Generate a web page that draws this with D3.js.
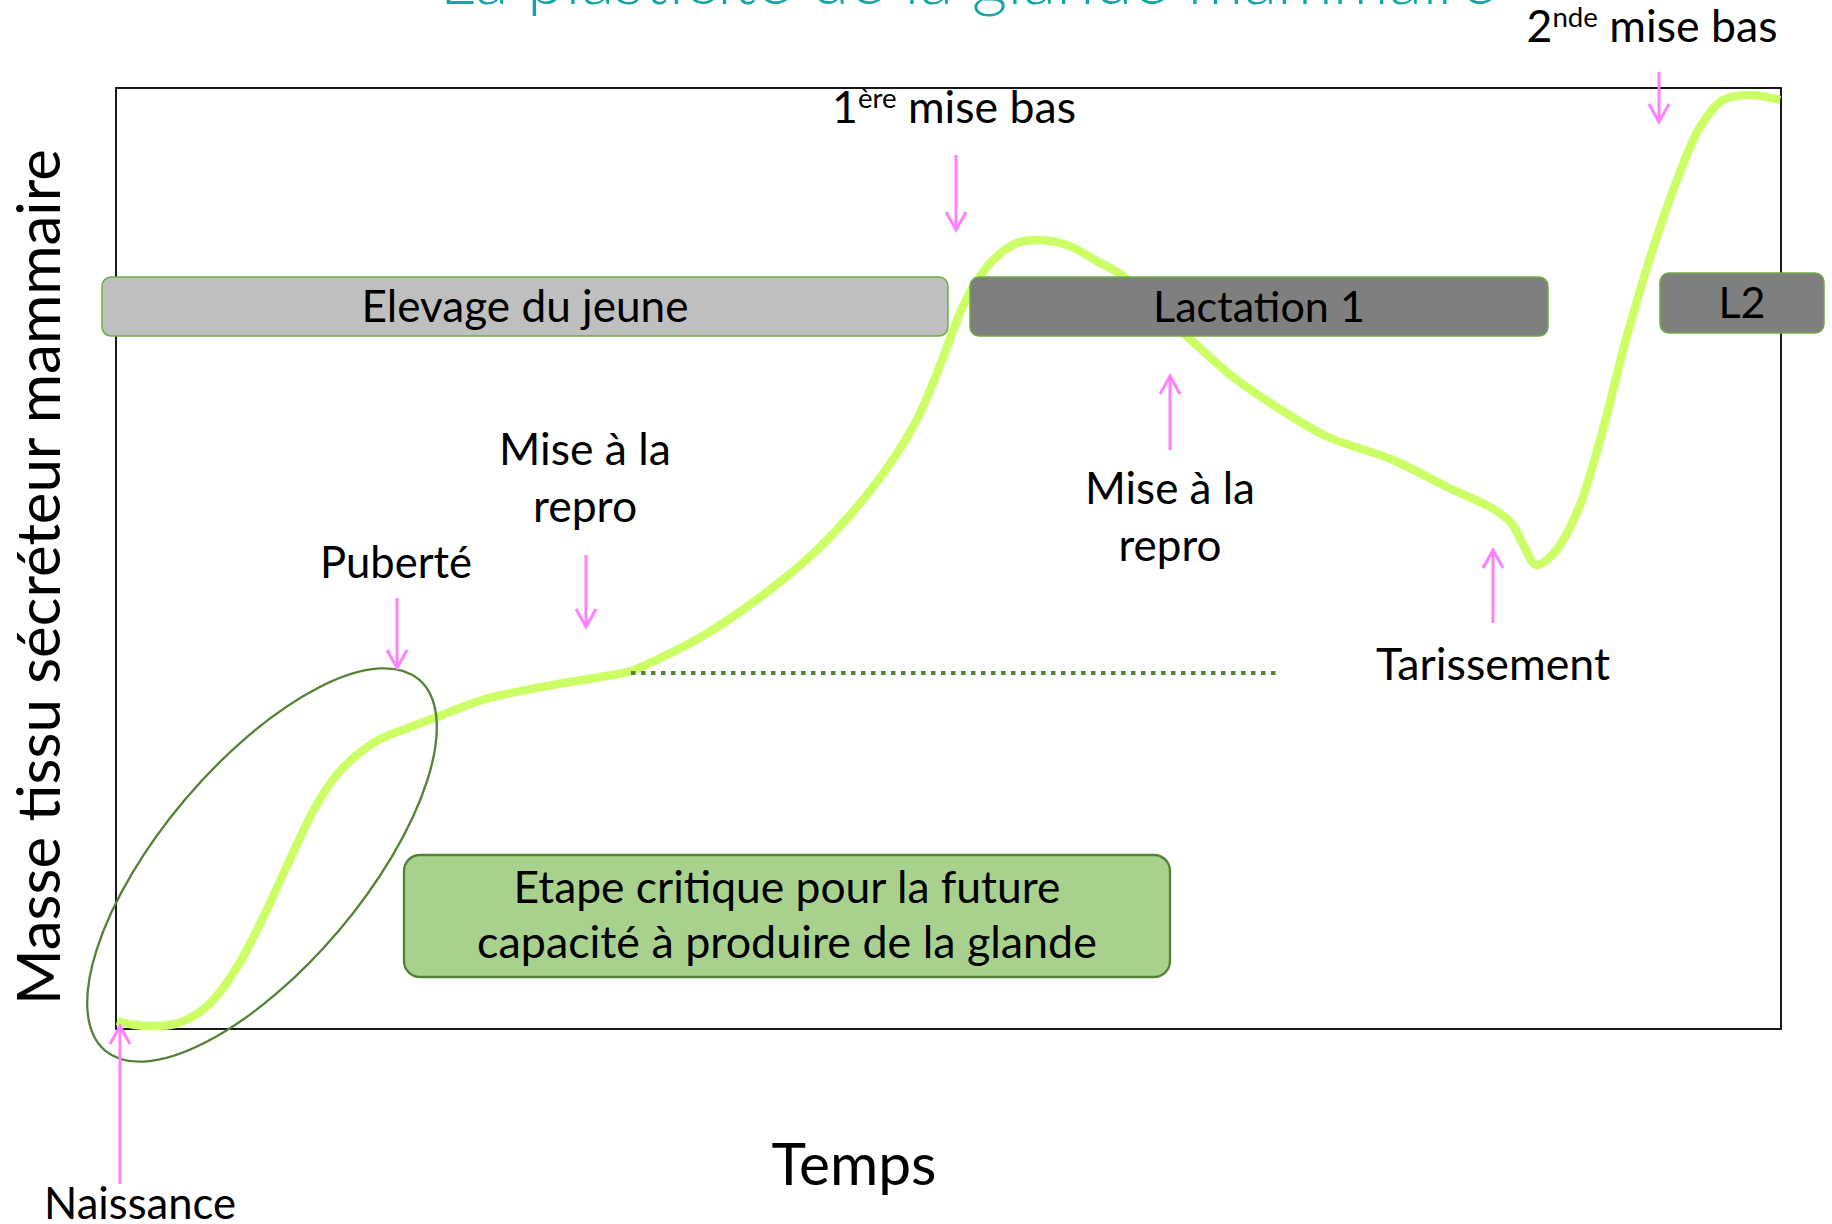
<!DOCTYPE html>
<html><head><meta charset="utf-8">
<script src="https://cdn.jsdelivr.net/npm/d3@7"></script>
<style>
body{margin:0;background:#fff;overflow:hidden}
svg{display:block}
text{font-family:Lato,"Open Sans","Noto Sans",sans-serif;fill:#000}
</style>
</head><body>
<svg id="chart" width="1832" height="1224"></svg>
<script>
// ---- data (time / mass in arbitrary units) ----
const timeValues = [1,19,39,59,74,89,107,124,139,154,169,184,196,209,224,242,264,289,321,366,420,484,515,538,585,643,702,757,797,817,831,844,857,877,901,921,951,984,1004,1075,1117,1170,1212,1277,1331,1379,1396,1408,1420,1438,1462,1486,1509,1534,1561,1584,1607,1634,1664];
const massValues = [8,4,3,5,11,21,41,67,95,126,159,191,216,238,258,275,290,300,312,329,341,352,358,368,392,431,480,542,602,646,682,716,742,769,786,789,784,766,755,689,652,616,592,569,542,519,505,483,464,476,519,596,686,771,849,902,929,934,929];

const phaseLabels = ["Elevage du jeune","Lactation 1","L2"];
const phaseStart  = [-14, 854, 1544];
const phaseEnd    = [832, 1432, 1708];
const phaseTop    = [752, 752, 756];
const phaseBottom = [693, 693, 696];
const phaseFill   = ["#bfbfbf","#7f7f7f","#7f7f7f"];

const eventLabels = [["Naissance"],["Puberté"],["Mise à la","repro"],["1^ère mise bas"],["Mise à la","repro"],["Tarissement"],["2^nde mise bas"]];
const eventTime   = [4, 281, 470, 840, 1054, 1377, 1543];
const arrowFrom   = [-155, 431, 474, 874, 579, 406, 957];
const arrowTo     = [3, 361, 402, 799, 653, 479, 907];
const labelTime   = [24, 280, 469, 838, 1054, 1377, 1536];
const labelMass   = [-190, 451, 564, 906, 525, 349, 987];
const labelWidth  = [192, 152, 172, 244, 170, 234, 251];

const refStart = 515, refEnd = 1160, refMass = 356;
const critStart = 288, critEnd = 1054, critTop = 174, critBottom = 52;
const critLines = ["Etape critique pour la future","capacité à produire de la glande"];
const pubertyCenter = [146, 164];

const titleText = "La plasticité de la glande mammaire";
const xTitle = "Temps";
const yTitle = "Masse tissu sécréteur mammaire";

// ---- drawing ----
const svg = d3.select("#chart");
const x = d3.scaleLinear().domain([0,1665]).range([116,1781]);
const y = d3.scaleLinear().domain([0,941]).range([1029,88]);

function fit(sel, target){
  const w = sel.node().getBBox().width;
  const fs = parseFloat(sel.attr("font-size"));
  sel.attr("font-size", fs*target/w);
}

// title (mostly cut off at top)
const tt = svg.append("text").attr("x",968).attr("y",4).attr("text-anchor","middle")
  .attr("font-size",60).attr("font-weight",300).style("fill","#12a6a8").text(titleText);
fit(tt,1057);

// frame
svg.append("rect").attr("x",x(0)).attr("y",y(941)).attr("width",x(1665)-x(0)).attr("height",y(0)-y(941))
  .attr("fill","none").attr("stroke","#000").attr("stroke-width",1.8);

// curve
const pts = timeValues.map((t,i)=>[t,massValues[i]]);
svg.append("path").datum(pts)
  .attr("d", d3.line().x(d=>x(d[0])).y(d=>y(d[1])).curve(d3.curveCatmullRom.alpha(0.5)))
  .attr("fill","none").attr("stroke","#ccff66").attr("stroke-width",8.5).attr("stroke-linecap","butt");

// dotted reference line
svg.append("line").attr("x1",x(refStart)).attr("x2",x(refEnd)).attr("y1",y(refMass)).attr("y2",y(refMass))
  .attr("stroke","#548235").attr("stroke-width",3.8).attr("stroke-dasharray","4.5,5.5");

// puberty ellipse
svg.append("ellipse").attr("cx",0).attr("cy",0).attr("rx",243).attr("ry",101)
  .attr("transform",`translate(${x(pubertyCenter[0])},${y(pubertyCenter[1])}) rotate(-49.8)`)
  .attr("fill","none").attr("stroke","#548235").attr("stroke-width",2.3);

// phase boxes
let phaseFont = 43;
phaseLabels.forEach((lab,i)=>{
  svg.append("rect").attr("x",x(phaseStart[i])).attr("y",y(phaseTop[i]))
    .attr("width",x(phaseEnd[i])-x(phaseStart[i])).attr("height",y(phaseBottom[i])-y(phaseTop[i]))
    .attr("rx",9).attr("fill",phaseFill[i]).attr("stroke","#70ad47").attr("stroke-width",1.5);
  const t = svg.append("text").attr("x",(x(phaseStart[i])+x(phaseEnd[i]))/2)
    .attr("y",(y(phaseTop[i])+y(phaseBottom[i]))/2+15).attr("text-anchor","middle")
    .attr("font-size",phaseFont).text(lab);
  if(i<2){ fit(t,[327,212][i]); phaseFont = +t.attr("font-size"); }
});

// critical box
svg.append("rect").attr("x",x(critStart)).attr("y",y(critTop))
  .attr("width",x(critEnd)-x(critStart)).attr("height",y(critBottom)-y(critTop))
  .attr("rx",16).attr("fill","#a9d18e").attr("stroke","#548235").attr("stroke-width",2.3);
critLines.forEach((l,i)=>{
  const t = svg.append("text").attr("x",(x(critStart)+x(critEnd))/2).attr("y",903+55*i)
    .attr("text-anchor","middle").attr("font-size",43).text(l);
  fit(t,[547,620][i]);
});

// arrows + labels
const pink = "#ff80ff";
eventTime.forEach((t,i)=>{
  const xx = x(t), y0 = y(arrowFrom[i]), y1 = y(arrowTo[i]);
  const dir = y1 > y0 ? 1 : -1;
  svg.append("line").attr("x1",xx).attr("x2",xx).attr("y1",y0).attr("y2",y1-dir*1)
    .attr("stroke",pink).attr("stroke-width",3);
  svg.append("path").attr("d",`M${xx-10},${y1-dir*18}L${xx},${y1}L${xx+10},${y1-dir*18}`)
    .attr("fill","none").attr("stroke",pink).attr("stroke-width",3);

  let fs = 43;
  eventLabels[i].forEach((line,j)=>{
    const tx = svg.append("text").attr("x",x(labelTime[i])).attr("y",y(labelMass[i])+57*j)
      .attr("text-anchor","middle").attr("font-size",fs);
    const m = line.match(/^(.*?)\^(\S+)(.*)$/);
    if(m){
      tx.append("tspan").text(m[1]);
      tx.append("tspan").attr("font-size","62%").attr("dy","-0.55em").text(m[2]);
      tx.append("tspan").attr("dy","0.34em").text(m[3]);
    } else tx.text(line);
    if(j===0){ fit(tx,labelWidth[i]); fs = +tx.attr("font-size"); }
  });
});

// axis titles
const xt = svg.append("text").attr("x",854).attr("y",1185).attr("text-anchor","middle")
  .attr("font-size",56).text(xTitle);
fit(xt,165);
const yt = svg.append("text").attr("transform","translate(60,577) rotate(-90)")
  .attr("text-anchor","middle").attr("font-size",58).text(yTitle);
fit(yt,856);
</script>
</body></html>
